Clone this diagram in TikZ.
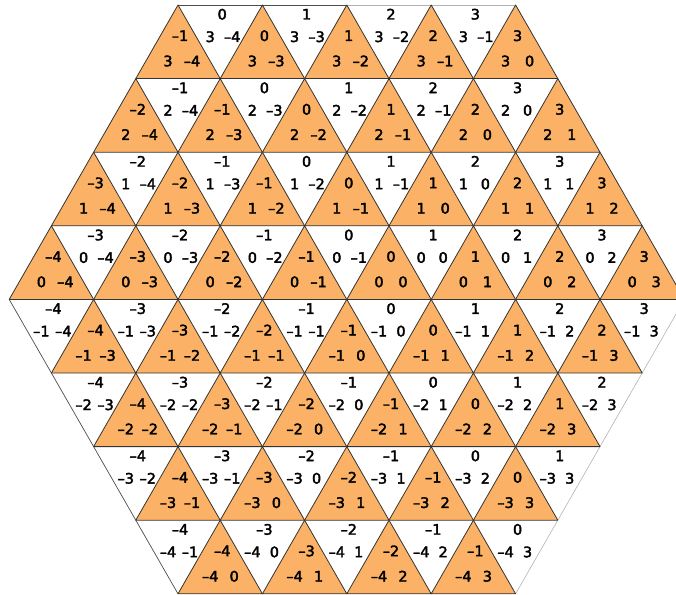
\documentclass[tikz,border=0pt]{standalone}
\usepackage{fontspec}
\setmainfont{DejaVu Sans}
\newfontfamily\lblfont{DejaVu Sans}[FakeBold=2.5]
\usepackage{tikz}
\definecolor{trifill}{RGB}{252,178,102}
\tikzset{
    uptri/.style={fill=trifill, draw=black!80, line width=0.8bp, line join=round},
    rimdark/.style={draw=black!70, line width=0.7bp},
    rimlight/.style={draw=gray!60, line width=0.6bp},
    numlbl/.style={inner sep=0pt, anchor=base, font=\lblfont\fontsize{14.5}{16}\selectfont}
}
% integer with a short dash as minus
\newcommand{\signednum}[1]{\ifnum#1<0 –\the\numexpr-#1\relax\else#1\fi}

\begin{document}
\begin{tikzpicture}[x=1bp, y=-1bp]
    \useasboundingbox (0,0) rectangle (676,595);
    \def\side{84.4}
    \def\rowh{73.6}

    % hexagon rim (sides that belong to white triangles)
    \coordinate (topleft) at (178,5);
    \coordinate (topmid) at (346.8,5);
    \coordinate (topright) at (515.6,5);
    \coordinate (leftpt) at (9.2,299.4);
    \coordinate (rightpt) at (684.4,299.4);
    \coordinate (botleft) at (178,593.8);
    \coordinate (botright) at (515.6,593.8);
    \draw[rimdark] (topleft) -- (topmid);
    \draw[rimlight] (topmid) -- (topright);
    \draw[rimdark] (leftpt) -- (botleft);
    \draw[rimlight] (rightpt) -- (botright);

    \foreach \row in {0,...,7}{
        \pgfmathtruncatemacro{\rw}{3-\row}
        \pgfmathsetmacro{\ytop}{5+\row*\rowh}
        \pgfmathsetmacro{\ybot}{\ytop+\rowh}
        % orange triangles, apex up
        \pgfmathtruncatemacro{\cmin}{max(-4,-4-\rw)}
        \pgfmathtruncatemacro{\cmax}{min(3,3-\rw)}
        \foreach \cc in {\cmin,...,\cmax}{
            \pgfmathsetmacro{\xa}{178+(\cc+4-\row/2)*\side}
            \pgfmathtruncatemacro{\aval}{\cc+\rw}
            \filldraw[uptri] (\xa,\ytop) -- (\xa+\side/2,\ybot) -- (\xa-\side/2,\ybot) -- cycle;
            \node[numlbl] (up-\row-\cc-a) at (\xa+2,\ytop+36) {\signednum{\aval}};
            \node[numlbl] (up-\row-\cc-r) at (\xa-10,\ytop+61.3) {\signednum{\rw}};
            \node[numlbl] (up-\row-\cc-c) at (\xa+14,\ytop+61.3) {\signednum{\cc}};
        }
        % white triangles, apex down
        \pgfmathtruncatemacro{\dmin}{max(-4,-5-\rw)}
        \pgfmathtruncatemacro{\dmax}{min(3,2-\rw)}
        \foreach \cc in {\dmin,...,\dmax}{
            \pgfmathsetmacro{\xd}{178+(\cc+4.5-\row/2)*\side}
            \pgfmathtruncatemacro{\aval}{\cc+\rw+1}
            \node[numlbl] (dn-\row-\cc-a) at (\xd+2,\ytop+14.5) {\signednum{\aval}};
            \node[numlbl] (dn-\row-\cc-r) at (\xd-10,\ytop+37) {\signednum{\rw}};
            \node[numlbl] (dn-\row-\cc-c) at (\xd+12,\ytop+37) {\signednum{\cc}};
        }
    }
\end{tikzpicture}
\end{document}
